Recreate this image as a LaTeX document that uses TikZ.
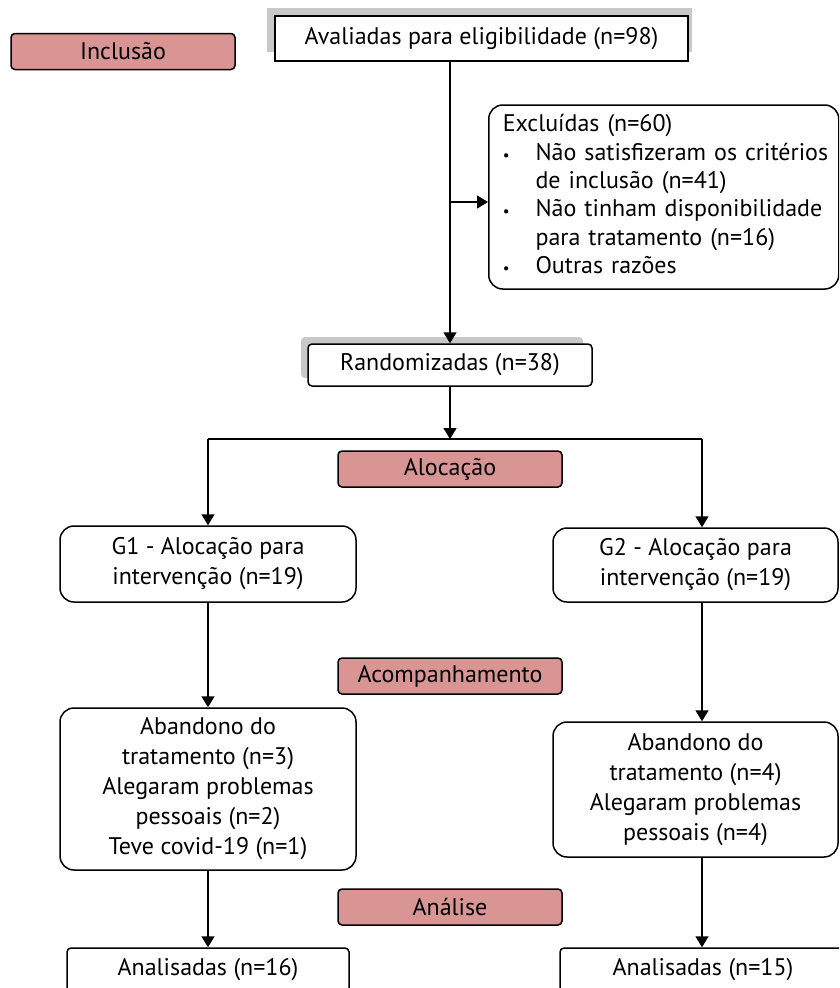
\documentclass[tikz,border=0pt]{standalone}
\usepackage{fontspec}
\setmainfont{PT Sans}
\usetikzlibrary{arrows.meta}
\definecolor{stagepink}{HTML}{D99594}
\definecolor{shadowgray}{HTML}{C8C8C8}
\newcommand{\smallbullet}{{\fontsize{15}{15}\selectfont\textbullet}}
\begin{document}
\begin{tikzpicture}[x=1pt,y=-1pt,
    box/.style={draw,line width=1.5pt,fill=white,align=center,inner sep=0pt,
      font=\fontsize{24}{30}\selectfont},
    stage/.style={box,fill=stagepink,rounded corners=4pt,minimum width=224pt,minimum height=36pt},
    >={Triangle[length=11pt,width=13pt]}]
      \useasboundingbox (0,0) rectangle (839,988);
      \clip (0,0) rectangle (839,988);
      \fill[shadowgray] (267,8) rectangle (692,52);
      \fill[shadowgray,rounded corners=4pt] (301,337) rectangle (583,378);
      \path
        (123,51.5) node[stage] (incl){Inclusão}
        (481.5,38.5) node[box,minimum width=413pt,minimum height=45pt] (aval){Avaliadas para eligibilidade (n=98)}
        (488,197) node[box,anchor=west,rounded corners=14pt,text width=322pt,align=left,
          inner xsep=14pt,minimum height=184pt] (excl){\fontsize{24}{28.3}\selectfont
          \begin{tabular}{@{}l@{\hspace{26pt}}l@{}}
            \multicolumn{2}{@{}l@{}}{Excluídas (n=60)}\\
            \smallbullet & Não satisfizeram os critérios\\
            & de inclusão (n=41)\\
            \smallbullet & Não tinham disponibilidade\\
            & para tratamento (n=16)\\
            \smallbullet & Outras razões
          \end{tabular}}
        (450,365) node[box,rounded corners=4pt,minimum width=284pt,minimum height=42pt] (rand){Randomizadas (n=38)}
        (450,469) node[stage] (aloc){Alocação}
        (208,564) node[box,rounded corners=14pt,minimum width=296pt,minimum height=76pt] (g1){G1 - Alocação para\\intervenção (n=19)}
        (695.5,565) node[box,rounded corners=14pt,minimum width=285pt,minimum height=74pt] (g2){G2 - Alocação para\\intervenção (n=19)}
        (450,676) node[stage] (acomp){Acompanhamento}
        (208,789) node[box,rounded corners=14pt,minimum width=296pt,minimum height=162pt] (ab1){Abandono do\\tratamento (n=3)\\Alegaram problemas\\pessoais (n=2)\\Teve covid-19 (n=1)}
        (695.5,789.5) node[box,rounded corners=14pt,minimum width=285pt,minimum height=135pt] (ab2){Abandono do\\tratamento (n=4)\\Alegaram problemas\\pessoais (n=4)}
        (450,907) node[stage] (anal){Análise}
        (208,970) node[box,rounded corners=4pt,minimum width=282pt,minimum height=44pt] (an1){Analisadas (n=16)}
        (703,970) node[box,rounded corners=4pt,minimum width=286pt,minimum height=44pt] (an2){Analisadas (n=15)};
      \begin{scope}[line width=1.5pt]
        \coordinate (side) at (450,202);
        \coordinate (lsplit) at (208,439);
        \coordinate (rsplit) at (702,439);
        \draw[->] (aval.south -| rand.north) to (rand.north);
        \draw[->] (side) to (side -| excl.west);
        \draw[->] (rand.south) to (rand.south |- lsplit);
        \draw (lsplit) to (rsplit);
        \draw[->] (lsplit) to (g1);
        \draw[->] (rsplit) to (rsplit |- g2.north);
        \draw[->] (g1) to (ab1);
        \draw[->] (rsplit |- g2.south) to (rsplit |- ab2.north);
        \draw[->] (ab1) to (an1);
        \draw[->] (rsplit |- ab2.south) to (rsplit |- an2.north);
      \end{scope}
    \end{tikzpicture}
\end{document}
